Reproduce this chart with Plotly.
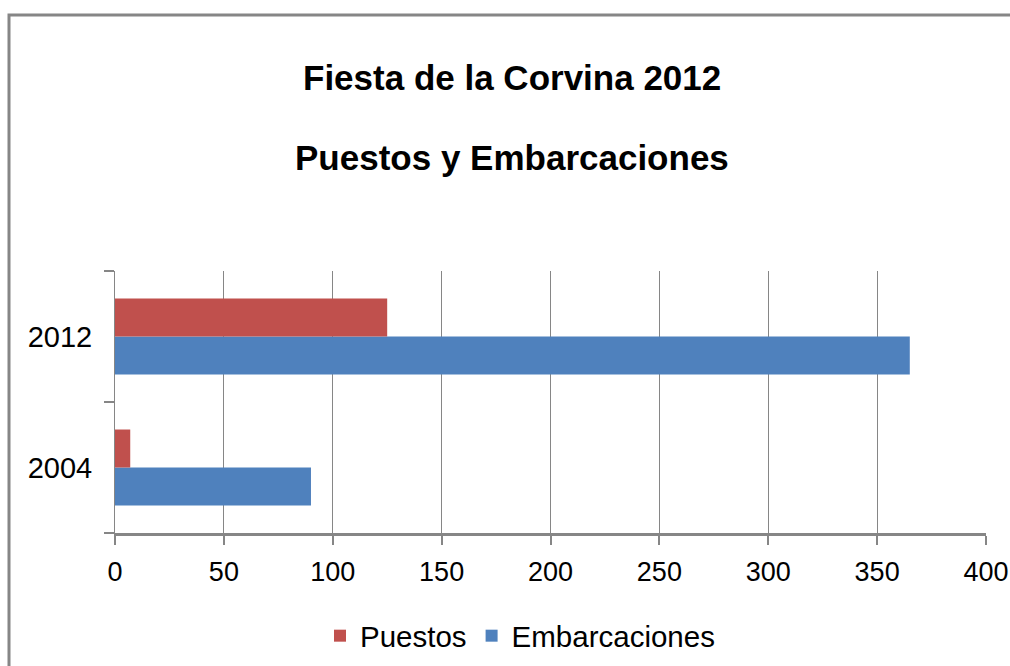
import plotly.graph_objects as go

categories = ["2004", "2012"]
puestos = [7, 125]
embarcaciones = [90, 365]
x_ticks = [0, 50, 100, 150, 200, 250, 300, 350, 400]
title_line1 = "Fiesta de la Corvina 2012"
title_line2 = "Puestos y Embarcaciones"

RED = "#C0504D"
BLUE = "#4F81BD"
GRID = "#868686"
FONT = "Liberation Sans, Arial, sans-serif"

W, H = 1010, 666
L, R, T, B = 115, 24, 271, 133
pw = W - L - R
ph = H - T - B


def px_x(x):
    return (x - L) / pw


def px_y(y):
    return (H - B - y) / ph


fig = go.Figure()
fig.add_trace(go.Bar(
    y=categories, x=embarcaciones, name="Embarcaciones", orientation="h",
    marker=dict(color=BLUE, line=dict(width=0)),
))
fig.add_trace(go.Bar(
    y=categories, x=puestos, name="Puestos", orientation="h",
    marker=dict(color=RED, line=dict(width=0)),
))

fig.update_layout(
    width=W, height=H,
    margin=dict(l=L, r=R, t=T, b=B, autoexpand=False),
    paper_bgcolor="white", plot_bgcolor="white",
    barmode="group", bargap=0.42, bargroupgap=0,
    font=dict(family=FONT, color="black", size=28),
    showlegend=True,
    legend=dict(
        orientation="h", traceorder="reversed",
        x=px_x(520), xanchor="center",
        y=px_y(636), yanchor="middle",
        font=dict(size=29.5, family=FONT),
        itemsizing="constant",
        bgcolor="rgba(0,0,0,0)",
    ),
    xaxis=dict(
        range=[0, 400], tickvals=x_ticks, ticktext=[str(v) for v in x_ticks],
        showgrid=True, gridcolor=GRID, gridwidth=1,
        zeroline=False,
        showline=True, linecolor=GRID, linewidth=3,
        ticks="outside", ticklen=9, tickwidth=2, tickcolor=GRID,
        ticklabelstandoff=4,
        tickfont=dict(size=27, family=FONT),
        fixedrange=True,
    ),
    yaxis=dict(
        type="category", categoryorder="array", categoryarray=categories,
        range=[-0.5, 1.5],
        showgrid=False, zeroline=False,
        showline=True, linecolor=GRID, linewidth=1,
        ticks="outside", ticklen=10, tickwidth=2, tickcolor=GRID,
        tickson="boundaries",
        ticklabelstandoff=16,
        tickfont=dict(size=29, family=FONT),
        fixedrange=True,
    ),
    annotations=[
        dict(text="<b>%s</b>" % title_line1, xref="paper", yref="paper",
             x=px_x(511.5), y=px_y(77), xanchor="center", yanchor="middle",
             showarrow=False, font=dict(size=35, family=FONT, color="black")),
        dict(text="<b>%s</b>" % title_line2, xref="paper", yref="paper",
             x=px_x(511.5), y=px_y(157), xanchor="center", yanchor="middle",
             showarrow=False, font=dict(size=35, family=FONT, color="black")),
    ],
    shapes=[
        dict(type="rect", xref="paper", yref="paper",
             x0=px_x(9), x1=px_x(1030), y0=px_y(690), y1=px_y(15),
             line=dict(color="#868686", width=3), fillcolor="rgba(0,0,0,0)",
             layer="above"),
    ],
)

fig.write_html(
    "out.html",
    config={"displayModeBar": False},
    post_script="document.body.style.margin='0';document.body.style.padding='0';",
)
